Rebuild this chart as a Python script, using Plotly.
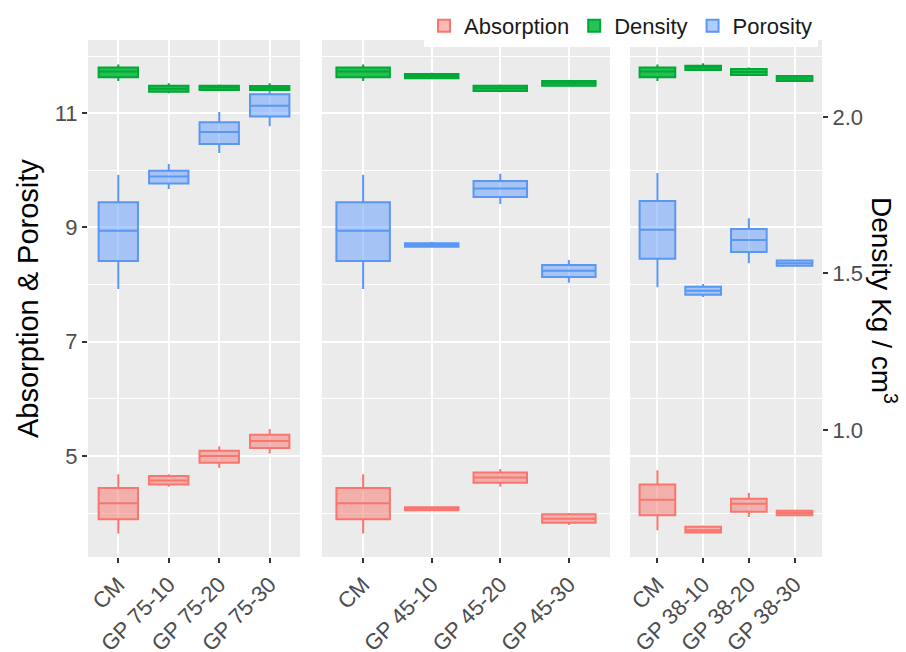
import plotly.graph_objects as go

# ---------------- data (whisker low, Q1, median, Q3, whisker high) ----------------
cats_75 = ["CM", "GP 75-10", "GP 75-20", "GP 75-30"]
cats_45 = ["CM", "GP 45-10", "GP 45-20", "GP 45-30"]
cats_38 = ["CM", "GP 38-10", "GP 38-20", "GP 38-30"]

absorption_75 = [(3.64, 3.89, 4.17, 4.44, 4.68), (4.46, 4.50, 4.57, 4.65, 4.68),
                 (4.79, 4.88, 5.00, 5.09, 5.17), (5.04, 5.14, 5.26, 5.37, 5.47)]
absorption_45 = [(3.64, 3.89, 4.17, 4.44, 4.68), (4.04, 4.05, 4.08, 4.10, 4.11),
                 (4.46, 4.53, 4.62, 4.71, 4.77), (3.79, 3.83, 3.90, 3.98, 4.00)]
absorption_38 = [(3.70, 3.96, 4.23, 4.50, 4.75), (3.64, 3.66, 3.70, 3.76, 3.78),
                 (3.93, 4.02, 4.16, 4.25, 4.35), (3.95, 3.96, 4.00, 4.04, 4.05)]

porosity_75 = [(7.92, 8.41, 8.94, 9.44, 9.92), (9.67, 9.77, 9.89, 9.99, 10.11),
               (10.30, 10.46, 10.67, 10.84, 11.02), (10.77, 10.94, 11.13, 11.33, 11.50)]
porosity_45 = [(7.92, 8.41, 8.94, 9.44, 9.92), (8.65, 8.66, 8.69, 8.72, 8.75),
               (9.41, 9.53, 9.68, 9.81, 9.94), (8.03, 8.13, 8.24, 8.34, 8.43)]
porosity_38 = [(7.95, 8.45, 8.96, 9.46, 9.95), (7.78, 7.82, 7.89, 7.96, 8.01),
               (8.37, 8.57, 8.78, 8.97, 9.16), (8.32, 8.33, 8.37, 8.42, 8.43)]

density_75 = [(2.115, 2.127, 2.145, 2.158, 2.168), (2.076, 2.081, 2.090, 2.100, 2.108),
              (2.083, 2.086, 2.094, 2.100, 2.104), (2.083, 2.086, 2.093, 2.099, 2.108)]
density_45 = [(2.115, 2.127, 2.145, 2.158, 2.168), (2.121, 2.124, 2.131, 2.137, 2.141),
              (2.079, 2.083, 2.092, 2.100, 2.104), (2.097, 2.100, 2.108, 2.115, 2.118)]
density_38 = [(2.115, 2.127, 2.145, 2.158, 2.168), (2.147, 2.150, 2.158, 2.164, 2.172),
              (2.131, 2.134, 2.144, 2.153, 2.158), (2.113, 2.115, 2.123, 2.131, 2.134)]

left_ticks = [5, 7, 9, 11]
left_minor = [4, 6, 8, 10, 12]
right_ticks = [1.0, 1.5, 2.0]
right_ticktext = ["1.0", "1.5", "2.0"]

# ---------------- styling ----------------
W, H = 906, 652
FONT = "Liberation Sans, Arial, sans-serif"
TICK_COL = "#4D4D4D"
BG = "#EBEBEB"
TICK_SIZE = 22
series_style = {
    "Absorption": dict(line="#F8766D", fill="rgba(248,118,109,0.5)"),
    "Density": dict(line="#00A835", fill="rgba(0,186,56,0.85)"),
    "Porosity": dict(line="#5A97F2", fill="rgba(97,156,255,0.5)"),
}

def px_x(p):
    return p / W

def px_y(p):
    return 1 - p / H

ydom = [px_y(557), px_y(40)]
left_range = [3.23, 12.28]
right_range = [0.594, 2.246]
xrange_ = [-0.6, 3.6]
BOXW = 0.78

fig = go.Figure()

panels = [
    dict(cats=cats_75, ab=absorption_75, po=porosity_75, de=density_75, xa="x", ya="y", yd="y5"),
    dict(cats=cats_45, ab=absorption_45, po=porosity_45, de=density_45, xa="x2", ya="y3", yd="y6"),
    dict(cats=cats_38, ab=absorption_38, po=porosity_38, de=density_38, xa="x3", ya="y4", yd="y2"),
]

for i, p in enumerate(panels):
    for name, data, yax in [("Absorption", p["ab"], p["ya"]),
                            ("Density", p["de"], p["yd"]),
                            ("Porosity", p["po"], p["ya"])]:
        st = series_style[name]
        fig.add_trace(go.Box(
            name=name, legendgroup=name, showlegend=(i == 0),
            x=p["cats"],
            lowerfence=[d[0] for d in data], q1=[d[1] for d in data],
            median=[d[2] for d in data], q3=[d[3] for d in data],
            upperfence=[d[4] for d in data],
            width=BOXW, whiskerwidth=0, boxpoints=False,
            line=dict(color=st["line"], width=2), fillcolor=st["fill"],
            xaxis=p["xa"], yaxis=yax, hoverinfo="skip",
        ))

xcommon = dict(range=xrange_, type="category", showgrid=True, gridcolor="white", gridwidth=1.5,
               zeroline=False, showline=False, ticks="outside", ticklen=5, tickwidth=1.5,
               tickcolor="#333333", tickangle=-45,
               tickfont=dict(size=TICK_SIZE, color=TICK_COL, family=FONT),
               automargin=False, fixedrange=True)
ycommon = dict(range=left_range, domain=ydom, tickvals=left_ticks, showgrid=True, gridcolor="white",
               gridwidth=2, zeroline=False, showline=False,
               minor=dict(tickvals=left_minor, showgrid=True, gridcolor="white", gridwidth=1, ticks=""),
               automargin=False, fixedrange=True)

fig.update_layout(
    width=W, height=H,
    margin=dict(l=0, r=0, t=0, b=0),
    paper_bgcolor="white", plot_bgcolor=BG,
    boxmode="overlay",
    font=dict(family=FONT, color="black"),
    xaxis=dict(domain=[px_x(88), px_x(300)], anchor="y", **xcommon),
    xaxis2=dict(domain=[px_x(322), px_x(610)], anchor="y3", **xcommon),
    xaxis3=dict(domain=[px_x(630), px_x(822)], anchor="y4", **xcommon),
    yaxis=dict(anchor="x", ticks="outside", ticklen=5, tickwidth=1.5, tickcolor="#333333",
               tickfont=dict(size=TICK_SIZE, color=TICK_COL, family=FONT), **ycommon),
    yaxis3=dict(anchor="x2", showticklabels=False, ticks="", **ycommon),
    yaxis4=dict(anchor="x3", showticklabels=False, ticks="", **ycommon),
    yaxis2=dict(overlaying="y4", anchor="x3", side="right", range=right_range,
                tickvals=right_ticks, ticktext=right_ticktext, showgrid=False, zeroline=False,
                showline=False, ticks="outside", ticklen=5, tickwidth=1.5, tickcolor="#333333",
                tickfont=dict(size=TICK_SIZE, color=TICK_COL, family=FONT),
                automargin=False, fixedrange=True),
    yaxis5=dict(overlaying="y", anchor="x", range=right_range, visible=False, fixedrange=True),
    yaxis6=dict(overlaying="y3", anchor="x2", range=right_range, visible=False, fixedrange=True),
    legend=dict(orientation="h", x=px_x(424), y=px_y(5), xanchor="left", yanchor="top",
                bgcolor="white", font=dict(size=22, color="#1A1A1A", family=FONT),
                itemsizing="constant", tracegroupgap=0, entrywidth=0, borderwidth=0),
    showlegend=True,
    annotations=[
        dict(text="Absorption & Porosity", x=px_x(28), y=px_y(299), xref="paper", yref="paper",
             showarrow=False, textangle=-90, font=dict(size=29, color="black", family=FONT),
             xanchor="center", yanchor="middle"),
        dict(text="Density Kg / cm<sup>3</sup>", x=px_x(884), y=px_y(300), xref="paper", yref="paper",
             showarrow=False, textangle=90, font=dict(size=28, color="black", family=FONT),
             xanchor="center", yanchor="middle"),
    ],
)

fig.write_html("out.html")
